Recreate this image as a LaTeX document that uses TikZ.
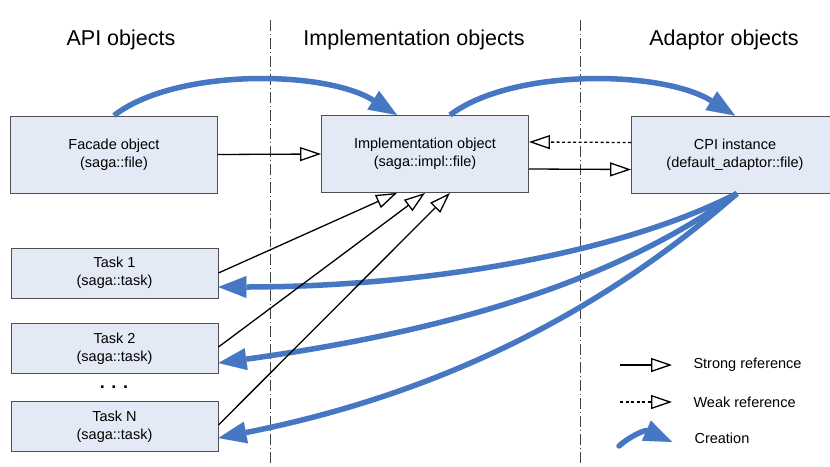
\documentclass[tikz,border=0pt]{standalone}
\usepackage{fontspec}
\setmainfont{Liberation Sans}
\usetikzlibrary{arrows.meta}
\definecolor{cblue}{HTML}{4677C3}
\definecolor{boxfill}{HTML}{E4EAF5}
\definecolor{boxline}{HTML}{505050}
\definecolor{divline}{HTML}{404040}
\begin{document}
\begin{tikzpicture}[x=1pt,y=-1pt,
  objbox/.style={draw=boxline, line width=0.9pt, fill=boxfill, minimum width=207pt,
    minimum height=77pt, align=center, font=\fontsize{14.5}{18}\selectfont, inner sep=0pt},
  taskbox/.style={objbox, minimum height=50pt},
  header/.style={font=\fontsize{21.5}{24}\selectfont},
  strongref/.style={line width=1.3pt, -{Triangle[length=21pt,width=14pt,fill=white]}},
  weakref/.style={strongref, dash pattern=on 3pt off 2.5pt},
  creation/.style={cblue, line width=5.5pt, -{Triangle[length=28pt,width=22pt,line width=0.01pt]}},
  divider/.style={divline, line width=1pt, dash pattern=on 11pt off 3pt on 1pt off 3pt},
  legendtext/.style={anchor=west, font=\fontsize{14.5}{18}\selectfont}]
\useasboundingbox (0,0) rectangle (830,466);
\clip (0,0) rectangle (830,466);
\fill[white] (0,0) rectangle (830,466);

% dividers
\draw[divider] (270,20) -- (270,466);
\draw[divider] (580,20) -- (580,466);

% headers
\node[header] (hapi) at (121,40) {API objects};
\node[header] (himpl) at (414,40) {Implementation objects};
\node[header] (hadapt) at (724,40) {Adaptor objects};

% objects
\node[objbox] (facade) at (114,154.5) {Facade object\\(saga::file)};
\node[objbox] (impl) at (425,154) {Implementation object\\(saga::impl::file)};
\node[objbox] (cpi) at (735,154.5) {CPI instance\\(default\_adaptor::file)};

\node[taskbox] (task1) at (114.5,273) {Task 1\\(saga::task)};
\node[taskbox] (task2) at (114.5,348.5) {Task 2\\(saga::task)};
\node[taskbox] (taskn) at (114.5,426.5) {Task N\\(saga::task)};
\node[font=\bfseries\fontsize{18}{18}\selectfont] (dots) at (114,387) {. . .};

% creation arrows
\draw[creation] (facade.north) .. controls (175,68) and (325,70) .. ([xshift=-28pt]impl.north);
\draw[creation] ([xshift=25pt]impl.north) .. controls (512,68) and (662,70) .. (cpi.north);
\draw[creation] ([xshift=2pt]cpi.south) .. controls (617,255) and (420,287) .. ([yshift=-14pt]task1.east);
\draw[creation] ([xshift=2pt]cpi.south) .. controls (602,291) and (420,335) .. ([yshift=-14.5pt]task2.east);
\draw[creation] ([xshift=2pt]cpi.south) .. controls (587,325) and (420,398) .. ([yshift=-11.5pt]taskn.east);

% references
\draw[strongref] (facade.east) -- (impl.west);
\draw[weakref] ([yshift=12pt]cpi.west) -- ([yshift=12pt]impl.east);
\draw[strongref] ([yshift=-15pt]impl.east) -- ([yshift=-15pt]cpi.west);
\draw[strongref] (task1.east) -- ([xshift=-28pt]impl.south);
\draw[strongref] ([yshift=1.5pt]task2.east) -- (impl.south);
\draw[strongref] ([yshift=1.5pt]taskn.east) -- ([xshift=25pt]impl.south);

% legend
\coordinate (ls1) at (620,365);
\coordinate (le1) at (672,365);
\coordinate (ls2) at (620,402);
\coordinate (le2) at (672,402);
\coordinate (lc1) at (619,446);
\coordinate (lc2) at (672,442);
\draw[strongref] (ls1) -- (le1);
\draw[weakref] (ls2) -- (le2);
\draw[creation, line cap=round] (lc1) .. controls (630,436) and (645,430) .. (lc2);
\node[legendtext] (lt1) at (690,365) {Strong reference};
\node[legendtext] (lt2) at (690,402) {Weak reference};
\node[legendtext] (lt3) at (691,438) {Creation};
\end{tikzpicture}
\end{document}
